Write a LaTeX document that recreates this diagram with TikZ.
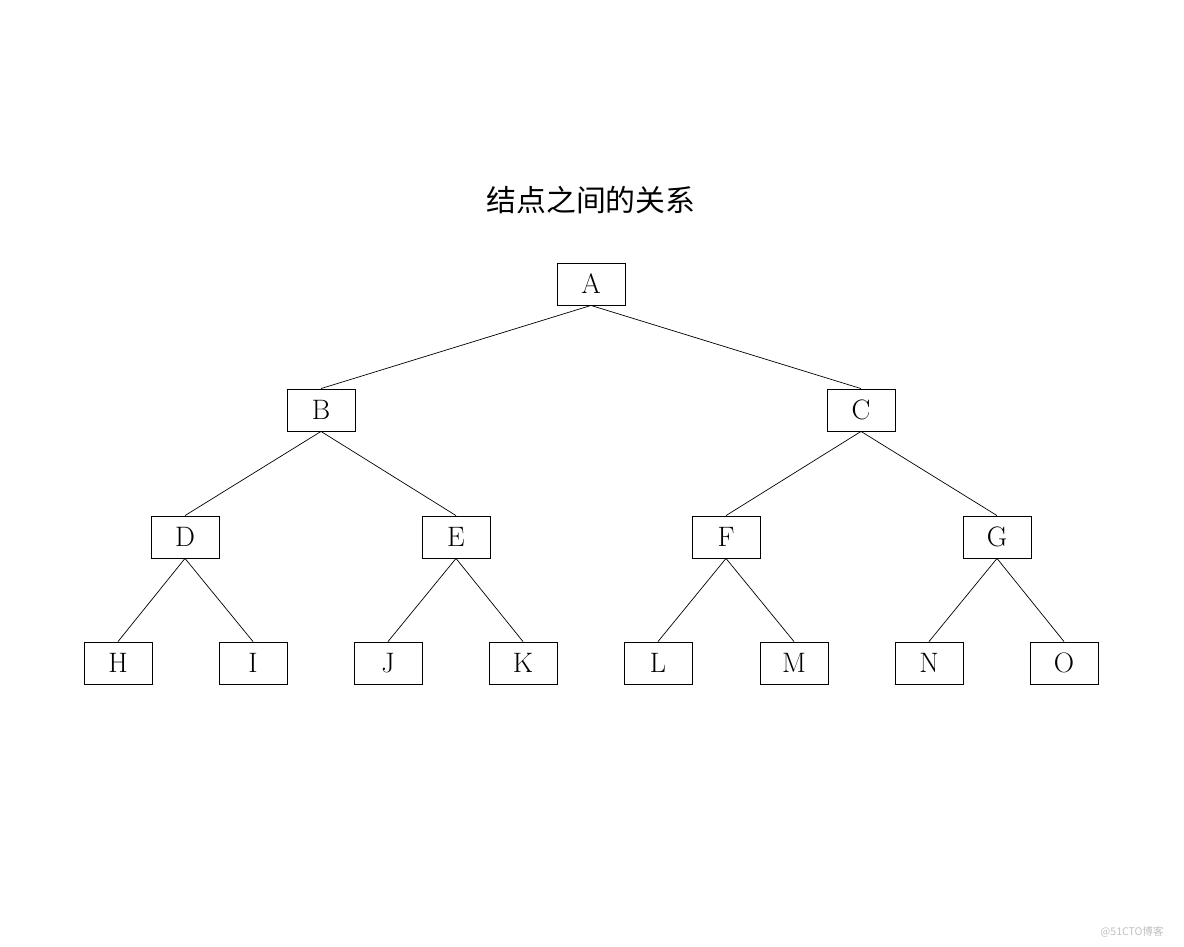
\documentclass[tikz,border=0pt]{standalone}
\usepackage{fontspec}
\newfontfamily\cjk{Noto Sans CJK SC}

\begin{document}
\begin{tikzpicture}[
  x=0.02cm, y=-0.02cm,
  nd/.style={draw, rectangle, minimum width=1.36cm, minimum height=0.84cm,
             inner sep=0pt, font=\fontsize{16}{18}\selectfont, line width=0.5pt},
  lnk/.style={line width=0.4pt},
  ttl/.style={font=\cjk\fontsize{17}{20}\selectfont},
  wmk/.style={font=\cjk\fontsize{6}{7}\selectfont, text=black!25}
]
\useasboundingbox (0,0) rectangle (1184,947);

% Title
\node[ttl] (title) at (591,200) {结点之间的关系};

% ======= root / level 1 =======
\node[nd] (A) at (591,284) {A};
\node[nd] (B) at (321,410) {B};
\node[nd] (C) at (861,410) {C};

% ======= level 2 =======
\node[nd] (D) at (185,537) {D};
\node[nd] (E) at (456,537) {E};
\node[nd] (F) at (726,537) {F};
\node[nd] (G) at (997,537) {G};

% ======= leaves =======
\node[nd] (H) at (118,663) {H};
\node[nd] (I) at (253,663) {I};
\node[nd] (J) at (388,663) {J};
\node[nd] (K) at (523,663) {K};
\node[nd] (L) at (658,663) {L};
\node[nd] (M) at (794,663) {M};
\node[nd] (N) at (929,663) {N};
\node[nd] (O) at (1064,663) {O};

% ======= edges =======
\foreach \p/\c in {A/B,A/C,B/D,B/E,C/F,C/G,D/H,D/I,E/J,E/K,F/L,F/M,G/N,G/O}
  \draw[lnk] (\p.south) -- (\c.north);

% watermark
\node[wmk] (wm) at (1132,932) {@51CTO博客};

\end{tikzpicture}
\end{document}
